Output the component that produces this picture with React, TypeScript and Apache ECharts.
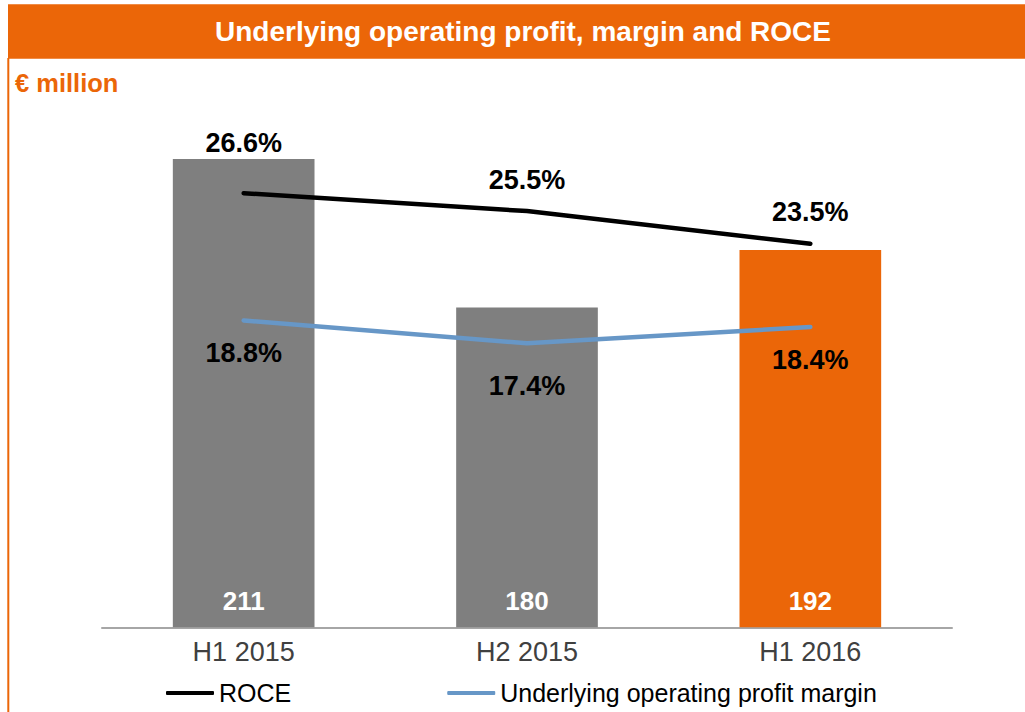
import React, { useEffect, useRef } from "react";
import * as echarts from "echarts";

const categories = ["H1 2015", "H2 2015", "H1 2016"];
const operatingProfit = [211, 180, 192];
const roce = [26.6, 25.5, 23.5];
const margin = [18.8, 17.4, 18.4];

const TITLE = "Underlying operating profit, margin and ROCE";
const UNIT = "€ million";

const ORANGE = "#EB6608";
const GREY = "#7F7F7F";
const BLUE = "#6797C7";
const BAR_COLORS = [GREY, GREY, ORANGE];
const ROCE_LABEL_DY = [-50.5, -31, -31.4];
const MARGIN_LABEL_DY = [33, 42.4, 32.6];
const FONT = "'Liberation Sans', Arial, Helvetica, sans-serif";

export default function App() {
  const ref = useRef<HTMLDivElement>(null);
  useEffect(() => {
    if (!ref.current) return;
    const chart = echarts.init(ref.current, null, { renderer: "svg" });
    const pct = (p: any) => Number(p.value).toFixed(1) + "%";
    chart.setOption({
      animation: false,
      backgroundColor: "#ffffff",
      textStyle: { fontFamily: FONT },
      graphic: [
        { type: "rect", z: 0, shape: { x: 8, y: 4.3, width: 1017, height: 54.4 }, style: { fill: ORANGE } },
        { type: "rect", z: 0, shape: { x: 7.3, y: 58, width: 2, height: 654 }, style: { fill: ORANGE } },
        {
          type: "text",
          x: 523,
          y: 31.5,
          style: {
            text: TITLE,
            fill: "#ffffff",
            font: `bold 28px ${FONT}`,
            align: "center",
            verticalAlign: "middle",
          },
        },
        {
          type: "text",
          x: 15,
          y: 83,
          style: {
            text: UNIT,
            fill: ORANGE,
            font: `bold 25.5px ${FONT}`,
            align: "left",
            verticalAlign: "middle",
          },
        },
      ],
      legend: {
        left: 166,
        top: 680.5,
        padding: 0,
        itemWidth: 48,
        itemHeight: 4,
        itemGap: 156,
        icon: "roundRect",
        textStyle: { fontSize: 25, color: "#000000", fontFamily: FONT },
        data: ["ROCE", "Underlying operating profit margin"],
      },
      grid: { left: 102, right: 73, top: 105, bottom: 84.7 },
      xAxis: {
        type: "category",
        data: categories,
        axisLine: { show: true, lineStyle: { color: "#A6A6A6", width: 2 } },
        axisTick: { show: false },
        axisLabel: { fontSize: 27, color: "#404040", margin: 11.5, fontFamily: FONT },
      },
      yAxis: [
        { type: "value", min: 113.2, max: 222.3, show: false, splitLine: { show: false } },
        { type: "value", min: 0, max: 32, show: false, splitLine: { show: false } },
      ],
      series: [
        {
          name: "Underlying operating profit",
          type: "bar",
          yAxisIndex: 0,
          barWidth: "50%",
          data: operatingProfit.map((v, i) => ({ value: v, itemStyle: { color: BAR_COLORS[i] } })),
          label: {
            show: true,
            position: "insideBottom",
            distance: 26.6,
            verticalAlign: "middle",
            color: "#ffffff",
            fontSize: 26,
            fontWeight: "bold",
            fontFamily: FONT,
          },
          z: 1,
        },
        {
          name: "ROCE",
          type: "line",
          yAxisIndex: 1,
          symbol: "circle",
          symbolSize: 3,
          itemStyle: { color: "#000000" },
          lineStyle: { color: "#000000", width: 4.5, cap: "round" },
          data: roce.map((v, i) => ({ value: v, label: { offset: [0, ROCE_LABEL_DY[i]] } })),
          label: {
            show: true,
            position: "inside",
            formatter: pct,
            color: "#000000",
            fontSize: 27,
            fontWeight: "bold",
            fontFamily: FONT,
          },
          z: 3,
        },
        {
          name: "Underlying operating profit margin",
          type: "line",
          yAxisIndex: 1,
          symbol: "circle",
          symbolSize: 3,
          itemStyle: { color: BLUE },
          lineStyle: { color: BLUE, width: 4.5, cap: "round" },
          data: margin.map((v, i) => ({ value: v, label: { offset: [0, MARGIN_LABEL_DY[i]] } })),
          label: {
            show: true,
            position: "inside",
            formatter: pct,
            color: "#000000",
            fontSize: 27,
            fontWeight: "bold",
            fontFamily: FONT,
          },
          z: 3,
        },
      ],
    });
    return () => chart.dispose();
  }, []);
  return (
    <div
      ref={ref}
      style={{ position: "absolute", left: 0, top: 0, width: 1025, height: 712 }}
    />
  );
}
